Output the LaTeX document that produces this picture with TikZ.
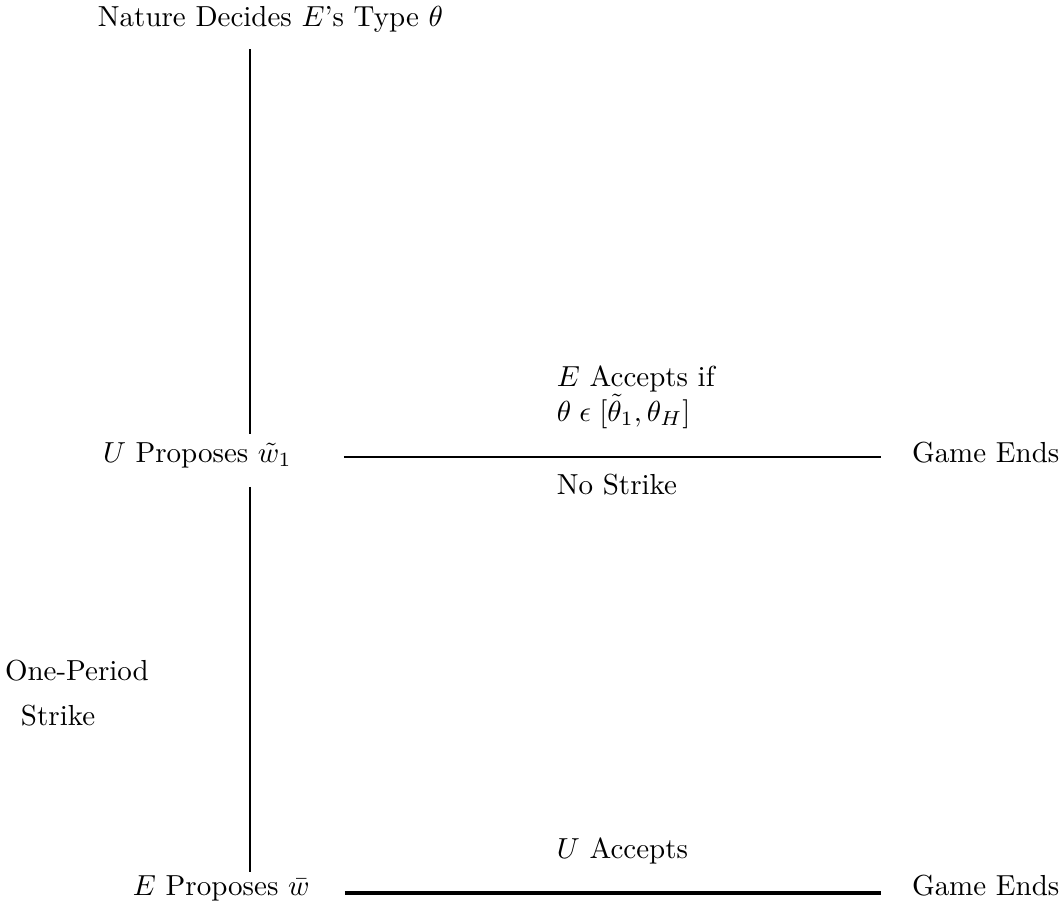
\documentclass[tikz,border=0pt]{standalone}
\usepackage{amsmath}
\begin{document}
\begin{tikzpicture}[x=0.345pt,y=-0.345pt,
  lbl/.style={inner sep=0pt,outer sep=0pt,anchor=base west,font=\fontsize{10}{12}\selectfont},
  conn/.style={line width=0.9pt},
  connb/.style={line width=1.15pt}]
\useasboundingbox (0,0) rectangle (1060,902);
\coordinate (vx) at (250,0);
\node[lbl] (nature) at (98,26) {Nature Decides $E$'s Type $\theta$};
\node[lbl] (u1) at (103,462) {$U$ Proposes $\tilde{w}_1$};
\node[lbl] (end1) at (912,462) {Game Ends};
\node[lbl,align=left] (eacc) at (557,421) {$E$ Accepts if\\$\theta\;\epsilon\;[\tilde{\theta}_1,\theta_H]$};
\node[lbl] (nostrike) at (557,494) {No Strike};
\node[lbl] (one) at (5,680) {One-Period};
\node[lbl] (strike) at (21,725) {Strike};
\node[lbl] (uacc) at (557,858) {$U$ Accepts};
\node[lbl] (e2) at (133,895) {$E$ Proposes $\bar{w}$};
\node[lbl] (end2) at (912,895) {Game Ends};
% vertical connectors
\draw[conn,shorten <=6pt,shorten >=3pt] (nature.south -| vx) -- (u1.north -| vx);
\draw[conn,shorten <=6.6pt,shorten >=1.1pt] (u1.south -| vx) -- (e2.north -| vx);
% horizontal connectors
\draw[conn,shorten <=18pt,shorten >=10.7pt] (u1.east) ++(0,2) coordinate (h1s) (h1s) -- (h1s -| end1.west);
\draw[connb,shorten <=12.2pt,shorten >=10.7pt] ([yshift=0.7pt]e2.base east) -- ([yshift=0.7pt]e2.base east -| end2.west);
\end{tikzpicture}
\end{document}
